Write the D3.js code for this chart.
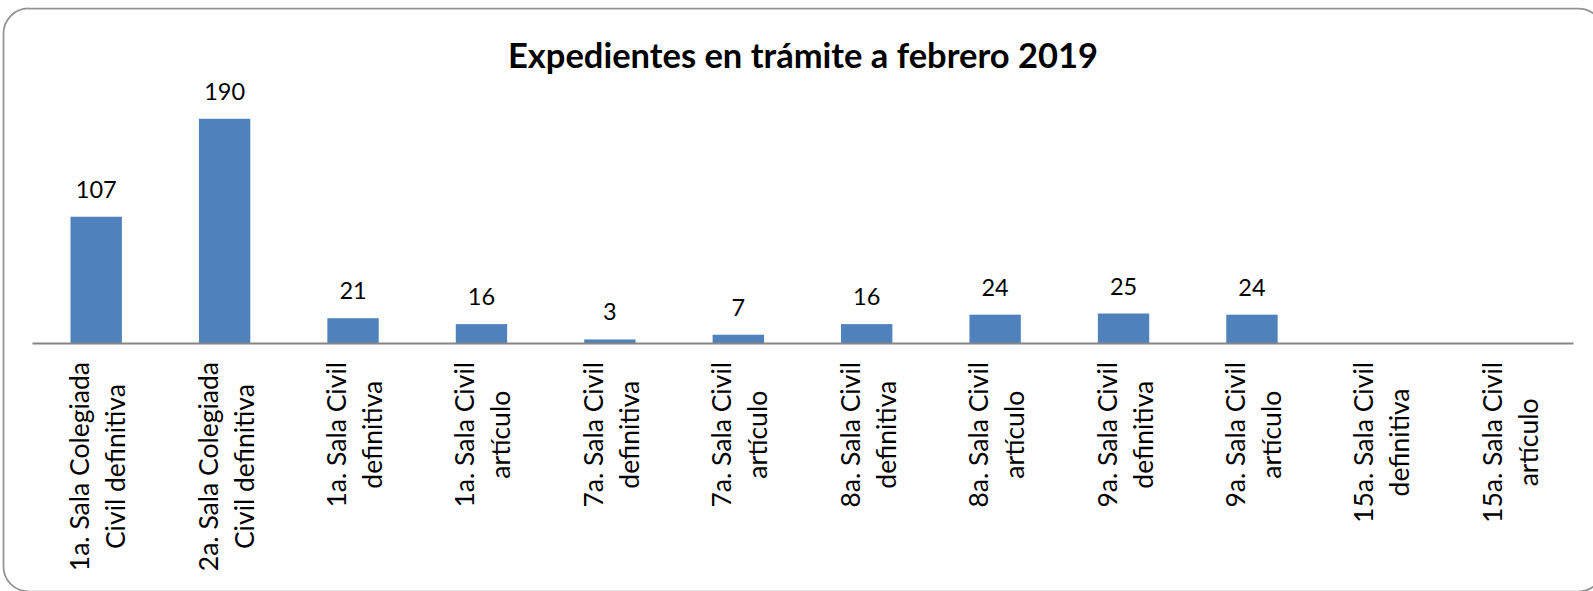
<!DOCTYPE html>
<html>
<head>
<meta charset="utf-8">
<script src="https://cdn.jsdelivr.net/npm/d3@7"></script>
<style>
  body { margin: 0; background: #fff; }
  svg { display: block; font-family: Lato, "Open Sans", sans-serif; }
</style>
</head>
<body>
<svg width="1593" height="591"></svg>
<script>
// categories (two lines each), values and title
var lines1 = ['1a. Sala Colegiada', '2a. Sala Colegiada', '1a. Sala Civil', '1a. Sala Civil',
    '7a. Sala Civil', '7a. Sala Civil', '8a. Sala Civil', '8a. Sala Civil',
    '9a. Sala Civil', '9a. Sala Civil', '15a. Sala Civil', '15a. Sala Civil'];
var lines2 = ['Civil definitiva', 'Civil definitiva', 'definitiva', 'artículo',
    'definitiva', 'artículo', 'definitiva', 'artículo',
    'definitiva', 'artículo', 'definitiva', 'artículo'];
var values = [107, 190, 21, 16, 3, 7, 16, 24, 25, 24, null, null];
var title = 'Expedientes en trámite a febrero 2019';

var svg = d3.select('svg');

// outer frame
svg.append('rect')
    .attr('x', 3.5).attr('y', 8.5)
    .attr('width', 1600).attr('height', 583)
    .attr('rx', 25).attr('ry', 25)
    .attr('fill', '#fff')
    .attr('stroke', '#939393')
    .attr('stroke-width', 1.75);

var cats = lines1.map(function(d, i) { return i; });

var x = d3.scaleBand()
    .domain(cats)
    .range([32, 1573])
    .paddingInner(0.6)
    .paddingOuter(0.3);

var y = d3.scaleLinear()
    .domain([0, 200])
    .range([343, 107]);

// title
svg.append('text')
    .attr('x', 803)
    .attr('y', 68)
    .attr('text-anchor', 'middle')
    .style('font-weight', 'bold')
    .style('font-size', '34.5px')
    .attr('fill', '#000')
    .text(title);

// bars
var data = cats.map(function(i) { return {i: i, v: values[i]}; })
    .filter(function(d) { return d.v != null; });

svg.selectAll('.bar')
    .data(data)
    .enter().append('rect')
    .attr('class', 'bar')
    .attr('x', function(d) { return x(d.i); })
    .attr('y', function(d) { return y(d.v); })
    .attr('width', x.bandwidth())
    .attr('height', function(d) { return y(0) - y(d.v); })
    .attr('fill', '#4f81bd');

// value labels
svg.selectAll('.val')
    .data(data)
    .enter().append('text')
    .attr('class', 'val')
    .attr('x', function(d) { return x(d.i) + x.bandwidth() / 2; })
    .attr('y', function(d) { return y(d.v) - 19; })
    .attr('text-anchor', 'middle')
    .style('font-size', '23.5px')
    .attr('fill', '#000')
    .text(function(d) { return d.v; });

// x axis with rotated two-line labels
var xAxisG = svg.append('g')
    .attr('transform', 'translate(0,343)')
    .call(d3.axisBottom(x).tickSize(0).tickSizeOuter(0));

xAxisG.select('.domain')
    .attr('stroke', '#868686')
    .attr('stroke-width', 2);

xAxisG.selectAll('.tick text').remove();

xAxisG.selectAll('.tick').each(function(i) {
    var tick = d3.select(this);
    var t = tick.append('text')
        .attr('transform', 'rotate(-90)')
        .attr('text-anchor', 'middle')
        .attr('fill', '#000')
        .style('font-size', '26.5px')
        .style('font-family', 'Lato, "Open Sans", sans-serif');
    var a = t.append('tspan').attr('y', -7).text(lines1[i]);
    var b = t.append('tspan').attr('y', 29).text(lines2[i]);
    var len = Math.max(a.node().getComputedTextLength(), b.node().getComputedTextLength());
    a.attr('x', -(19 + len / 2));
    b.attr('x', -(19 + len / 2));
});
</script>
</body>
</html>
